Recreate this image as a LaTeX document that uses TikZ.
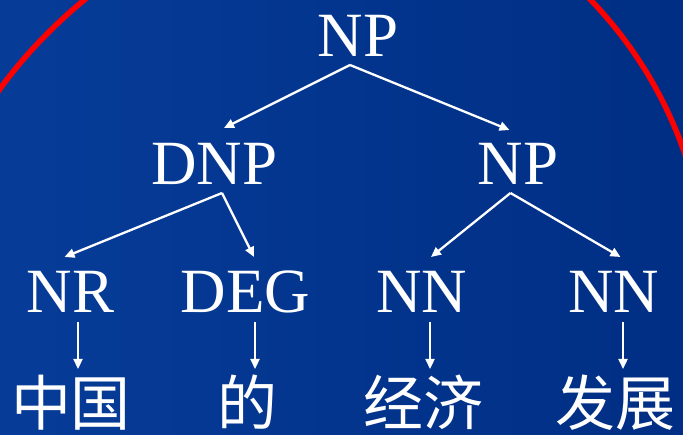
\documentclass[tikz,border=0pt]{standalone}
\usepackage{fontspec}
\setmainfont{Liberation Serif}
\newfontfamily\cjk{Noto Sans CJK SC}
\usetikzlibrary{arrows.meta}
\definecolor{bgleft}{RGB}{6,60,152}
\definecolor{bgright}{RGB}{0,46,132}
\begin{document}
\begin{tikzpicture}[x=1pt,y=-1pt,
  lab/.style={text=white,font=\fontsize{63}{63}\selectfont,inner sep=0pt,anchor=base},
  word/.style={text=white,font=\cjk\fontsize{60}{60}\selectfont,inner sep=0pt,anchor=base},
  edge/.style={draw=white,line width=2.3pt,-{Triangle[length=10pt,width=9pt]}},
  redarc/.style={draw=red,line width=5.5pt}]
\shade[left color=bgleft,right color=bgright] (0,0) rectangle (683,435);
\useasboundingbox (0,0) rectangle (683,435);
\begin{scope}
  \clip (0,0) rectangle (683,435);
  \draw[redarc] (-15,112) .. controls (8,72) and (55,20) .. (105,-16);
  \draw[redarc] (570,-20) .. controls (620,25) and (678,100) .. (700,210);
\end{scope}
% nodes
\node[lab] (np)  at (358,57)  {NP};
\node[lab] (dnp) at (214.5,185) {DNP};
\node[lab] (np2) at (518,185) {NP};
\node[lab] (nr)  at (70.5,313) {NR};
\node[lab] (deg) at (245.5,313) {DEG};
\node[lab] (nn1) at (421.5,313) {NN};
\node[lab] (nn2) at (614,313) {NN};
\node[word] (w1) at (71,426) {中国};
\node[word] (w2) at (247,426) {的};
\node[word] (w3) at (423,426) {经济};
\node[word] (w4) at (615.5,426) {发展};
% branch points
\coordinate (npB)  at ([shift={(-8pt,-8pt)}]np.base);
\coordinate (dnpB) at ([shift={(7.5pt,-8pt)}]dnp.base);
\coordinate (np2B) at ([shift={(-7.5pt,-8pt)}]np2.base);
% edges
\draw[edge] (npB) -- ([shift={(9.5pt,57pt)}]dnp.base);
\draw[edge] (npB) -- ([shift={(-8.5pt,55pt)}]np2.base);
\draw[edge] (dnpB) -- ([shift={(-6pt,56pt)}]nr.base);
\draw[edge] (dnpB) -- ([shift={(8.5pt,56pt)}]deg.base);
\draw[edge] (np2B) -- ([shift={(9.5pt,56pt)}]nn1.base);
\draw[edge] (np2B) -- ([shift={(6.5pt,56pt)}]nn2.base);
\draw[edge] ([shift={(7.5pt,-9pt)}]nr.base) -- ([shift={(7pt,57pt)}]w1.base);
\draw[edge] ([shift={(9.5pt,-9pt)}]deg.base) -- ([shift={(8pt,57pt)}]w2.base);
\draw[edge] ([shift={(8.5pt,-9pt)}]nn1.base) -- ([shift={(7pt,57pt)}]w3.base);
\draw[edge] ([shift={(9pt,-9pt)}]nn2.base) -- ([shift={(7.5pt,57pt)}]w4.base);
\end{tikzpicture}
\end{document}
